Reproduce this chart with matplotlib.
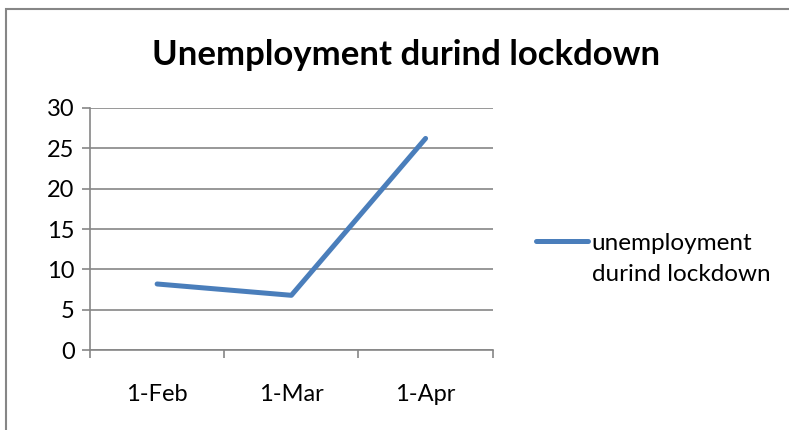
import matplotlib
matplotlib.use("Agg")
import matplotlib.pyplot as plt
from matplotlib.patches import Rectangle

plt.rcParams['font.family'] = ['Lato', 'DejaVu Sans']

# data
months = ['1-Feb', '1-Mar', '1-Apr']
unemployment = [8.2, 6.8, 26.2]
series_name = 'unemployment\ndurind lockdown'
y_ticks = [0, 5, 10, 15, 20, 25, 30]

W, H = 789, 430
fig = plt.figure(figsize=(W / 100, H / 100), dpi=100)

# chart frame (only top and left edges are visible in the crop)
fig.patches.append(Rectangle((6 / W, -0.1), 1.2, 1 - 9 / H + 0.1, transform=fig.transFigure,
                             fill=False, edgecolor='#868686', linewidth=1.5))

ax = fig.add_axes([90 / W, 1 - 350.3 / H, (492.7 - 90) / W, (350.3 - 107.7) / H])
x = list(range(len(months)))
line, = ax.plot(x, unemployment, color='#4A7EBB', linewidth=3.6, solid_capstyle='round',
                solid_joinstyle='round', label=series_name)

ax.set_xlim(-0.5, len(months) - 0.5)
ax.set_ylim(0, 30)
ax.set_yticks(y_ticks)
ax.set_yticklabels([str(v) for v in y_ticks])
ax.set_xticks(x)
ax.set_xticklabels(months)
ax.set_xticks([i - 0.5 for i in range(len(months) + 1)], minor=True)

grid_c = '#868686'
ax.grid(axis='y', color=grid_c, linewidth=1.2)
ax.set_axisbelow(True)
for s in ['top', 'right']:
    ax.spines[s].set_visible(False)
for s in ['left', 'bottom']:
    ax.spines[s].set_color(grid_c)
    ax.spines[s].set_linewidth(1.2)

ax.tick_params(axis='y', length=6, width=1.2, color=grid_c, labelsize=17, pad=5)
ax.tick_params(axis='x', which='major', length=0, labelsize=17, pad=24)
ax.tick_params(axis='x', which='minor', length=6, width=1.2, color=grid_c)

fig.text(406 / W, 1 - 55 / H, 'Unemployment durind lockdown', ha='center', va='center',
         fontsize=25, fontweight='bold')

leg = ax.legend(handles=[line], loc='center left', bbox_to_anchor=(526 / W, 1 - 259 / H),
                bbox_transform=fig.transFigure, frameon=False, fontsize=17.5,
                handlelength=2.15, handletextpad=0.15, borderaxespad=0)
for t in leg.get_texts():
    t.set_linespacing(1.55)
# Excel puts the legend key level with the first text line
for h in leg.legend_handles:
    h.set_ydata([v + 13 for v in h.get_ydata()])

fig.savefig('out.png', dpi=100)
